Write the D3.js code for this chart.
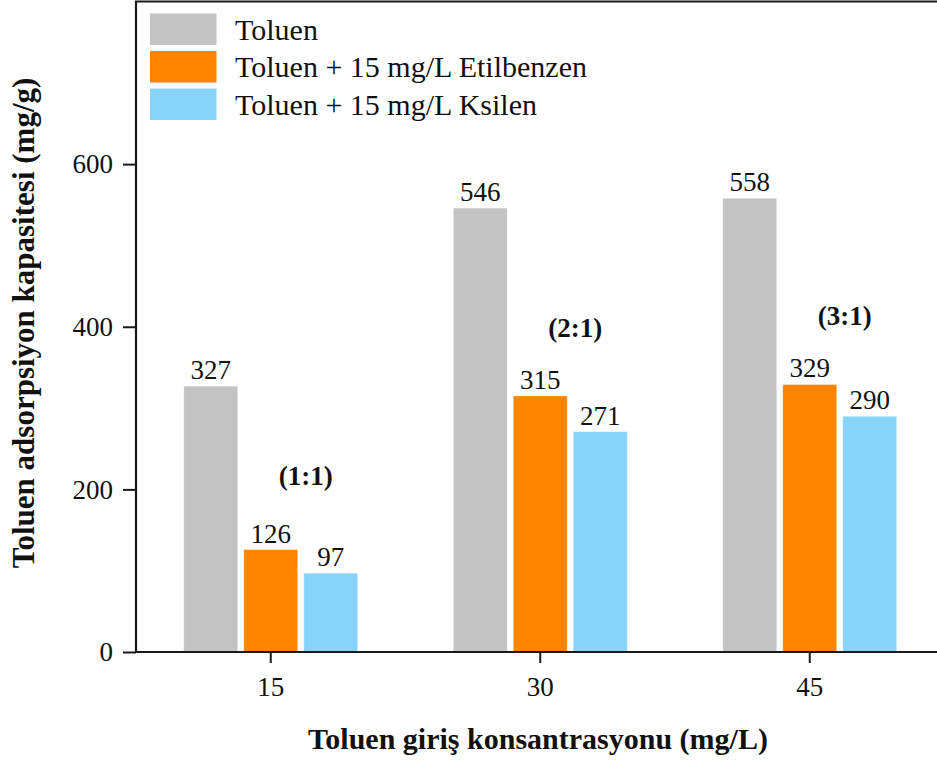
<!DOCTYPE html>
<html>
<head>
<meta charset="utf-8">
<script src="https://cdn.jsdelivr.net/npm/d3@7"></script>
<style>
  body { margin: 0; background: #fff; }
  svg { display: block; }
  svg text { font-family: "Liberation Serif", "Times New Roman", serif; }
</style>
</head>
<body>
<div id="chart"></div>
<script>
// data
var categories = ["15", "30", "45"];
var seriesNames = ["Toluen", "Toluen + 15 mg/L Etilbenzen", "Toluen + 15 mg/L Ksilen"];
var toluen = [327, 546, 558];
var etilbenzen = [126, 315, 329];
var ksilen = [97, 271, 290];
var yTicks = [0, 200, 400, 600];
var ratioLabels = ["(1:1)", "(2:1)", "(3:1)"];
var ratioLevels = [205, 388, 402];   // y value at the text baseline

var colors = ["#c3c3c3", "#ff8400", "#87d4fb"];
var seriesValues = [toluen, etilbenzen, ksilen];

var width = 937, height = 760;
var plotLeft = 136, plotTop = 1.5, plotBottom = 652;

var svg = d3.select('#chart').append('svg')
    .attr('width', width)
    .attr('height', height);

var x = d3.scaleBand().domain(categories).range([plotLeft, 944.5]).padding(0);
var inner = d3.scaleBand().domain(d3.range(seriesNames.length)).range([0, 174]).paddingInner(0.1).paddingOuter(0);
var y = d3.scaleLinear().domain([0, 800]).range([plotBottom, plotTop]);

var groupOffset = (x.bandwidth() - 174) / 2;

// bars
var groups = svg.selectAll('g.group').data(categories).enter().append('g')
    .attr('class', 'group')
    .attr('transform', function(d) { return 'translate(' + (x(d) + groupOffset) + ',0)'; });

groups.each(function(cat, ci) {
    var g = d3.select(this);
    seriesValues.forEach(function(vals, si) {
        var v = vals[ci];
        g.append('rect')
            .attr('x', inner(si))
            .attr('width', inner.bandwidth())
            .attr('y', y(v))
            .attr('height', y(0) - y(v))
            .style('fill', colors[si])
            .style('stroke', '#ffffff')
            .style('stroke-opacity', 0.5)
            .style('stroke-width', 0.8);
        g.append('text')
            .attr('x', inner(si) + inner.bandwidth() / 2)
            .attr('y', y(v) - 7)
            .attr('text-anchor', 'middle')
            .style('font-size', '27px')
            .style('fill', '#111')
            .text(v);
    });
});

// ratio notes between the orange and blue bars
svg.selectAll('text.ratio').data(ratioLabels).enter().append('text')
    .attr('class', 'ratio')
    .attr('x', function(d, i) { return x(categories[i]) + x.bandwidth() / 2 + 35; })
    .attr('y', function(d, i) { return y(ratioLevels[i]); })
    .attr('text-anchor', 'middle')
    .style('font-size', '27px')
    .style('font-weight', 'bold')
    .style('fill', '#111')
    .text(function(d) { return d; });

// axes
var yAxis = d3.axisLeft(y).tickValues(yTicks).tickSize(13).tickSizeOuter(0).tickPadding(10);
var yG = svg.append('g').attr('transform', 'translate(' + plotLeft + ',0)').call(yAxis);
yG.select('.domain').remove();
yG.selectAll('line').style('stroke', '#1a1a1a').style('stroke-width', 2);
yG.selectAll('text').style('font-size', '27px').style('fill', '#111');

var xAxis = d3.axisBottom(x).tickSize(11).tickSizeOuter(0).tickPadding(14);
var xG = svg.append('g').attr('transform', 'translate(0,' + plotBottom + ')').call(xAxis);
xG.select('.domain').remove();
xG.selectAll('line').style('stroke', '#1a1a1a').style('stroke-width', 2);
xG.selectAll('text').style('font-size', '27px').style('fill', '#111');

// frame: top, left and bottom lines
var frame = svg.append('g').style('stroke', '#1a1a1a').style('stroke-width', 2.2).style('fill', 'none');
frame.append('path').attr('d', 'M' + width + ',' + plotTop + 'H' + plotLeft + 'V' + plotBottom + 'H' + width);

// axis titles
svg.append('text')
    .attr('x', 538)
    .attr('y', 749)
    .attr('text-anchor', 'middle')
    .style('font-size', '30px')
    .style('font-weight', 'bold')
    .style('fill', '#111')
    .text('Toluen giriş konsantrasyonu (mg/L)');

svg.append('text')
    .attr('transform', 'translate(34,' + 323 + ') rotate(-90)')
    .attr('text-anchor', 'middle')
    .style('font-size', '31px')
    .style('font-weight', 'bold')
    .style('fill', '#111')
    .text('Toluen adsorpsiyon kapasitesi (mg/g)');

// legend
var legend = svg.selectAll('g.legend').data(seriesNames).enter().append('g')
    .attr('class', 'legend')
    .attr('transform', function(d, i) { return 'translate(150,' + (13.5 + i * 37.5) + ')'; });
legend.append('rect')
    .attr('width', 66.5)
    .attr('height', 31.5)
    .style('fill', function(d, i) { return colors[i]; });
legend.append('text')
    .attr('x', 85)
    .attr('y', 26)
    .style('font-size', '30px')
    .style('fill', '#111')
    .text(function(d) { return d; });
</script>
</body>
</html>
